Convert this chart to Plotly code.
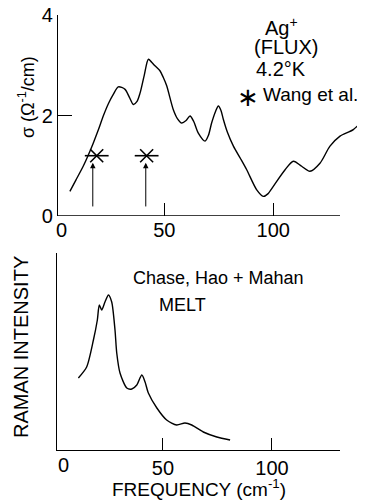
import plotly.graph_objects as go

# ---- data ----
freq_ir = [6.7, 9.5, 12.8, 15.0, 17.4, 19.8, 22.0, 24.5, 26.6, 28.9, 32.0, 34.0, 35.8, 37.5, 38.9,
           40.8, 42.7, 44.2, 45.7, 48.0, 49.5, 51.1, 54.1, 56.0, 58.0, 60.0, 61.8, 63.5, 65.6, 68.7,
           70.2, 71.7, 73.5, 74.8, 76.0, 77.1, 79.0, 81.7, 85.0, 87.8, 92.4, 95.4, 97.5, 100.0,
           105.4, 109.2, 113.0, 116.8, 121.4, 126.0, 130.6, 136.7, 142.1]
sigma = [0.49, 0.72, 0.99, 1.20, 1.45, 1.72, 1.99, 2.25, 2.42, 2.57, 2.52, 2.36, 2.22, 2.28, 2.45,
         2.80, 3.12, 3.06, 2.99, 2.89, 2.76, 2.59, 2.12, 1.94, 1.85, 1.90, 1.99, 1.88, 1.65, 1.49,
         1.60, 1.85, 2.08, 2.19, 2.10, 1.92, 1.66, 1.39, 1.14, 0.92, 0.52, 0.39, 0.44, 0.59,
         0.92, 1.09, 0.99, 0.89, 1.05, 1.39, 1.59, 1.72, 1.95]

wang_freq = [19.0, 41.9]
wang_sigma = [1.2, 1.2]
arrow_freq = [17.2, 41.5]
arrow_base = [0.16, 0.16]
arrow_tip = [1.06, 1.06]

freq_raman = [11.2, 15.0, 18.1, 19.9, 20.8, 21.9, 23.4, 25.0, 26.5, 28.0, 28.8, 30.3, 33.4, 35.7,
              38.0, 40.3, 41.8, 43.3, 47.2, 51.7, 56.3, 60.1, 63.2, 68.5, 74.7, 80.8]
raman = [7.2, 8.3, 11.0, 13.0, 14.5, 14.0, 14.8, 15.5, 14.8, 12.0, 9.7, 7.7, 6.2, 6.1,
         6.5, 7.5, 6.8, 5.7, 4.2, 3.0, 2.5, 2.7, 2.5, 1.8, 1.3, 1.0]

x_ticks = [50, 100]
sigma_ticks = [0, 2, 4]

FONT = "Liberation Sans"
OFF = 8                      # page body margin
W, H = 365 - OFF, 500 - OFF


def px(p):
    return (p - OFF) / W


def py(p):
    return 1 - (p - OFF) / H


fig = go.Figure()

fig.add_trace(go.Scatter(x=freq_ir, y=sigma, mode="lines", xaxis="x", yaxis="y",
                         line=dict(color="black", width=1.4, shape="spline", smoothing=0.8),
                         showlegend=False, hoverinfo="skip"))
fig.add_trace(go.Scatter(x=wang_freq, y=wang_sigma, mode="markers", xaxis="x", yaxis="y",
                         marker=dict(symbol="x-thin-open", size=13, color="black",
                                     line=dict(color="black", width=1.6)),
                         showlegend=False, hoverinfo="skip"))
fig.add_trace(go.Scatter(x=wang_freq, y=wang_sigma, mode="markers", xaxis="x", yaxis="y",
                         marker=dict(symbol="line-ew-open", size=17, color="black",
                                     line=dict(color="black", width=1.6)),
                         showlegend=False, hoverinfo="skip"))
fig.add_trace(go.Scatter(x=freq_raman, y=raman, mode="lines", xaxis="x2", yaxis="y2",
                         line=dict(color="black", width=1.4, shape="spline", smoothing=0.7),
                         showlegend=False, hoverinfo="skip"))

tickfont = dict(family=FONT, size=20, color="black")

fig.update_layout(
    width=W, height=H, margin=dict(l=0, r=0, t=0, b=0, autoexpand=False),
    paper_bgcolor="white", plot_bgcolor="white",
    font=dict(family=FONT, color="black"),
    xaxis=dict(domain=[px(58), 1.0], range=[1.24, 142.06], anchor="y", automargin=False,
               showline=False, showgrid=False, zeroline=False, ticklabeloverflow="allow",
               tickvals=x_ticks, ticks="inside", ticklen=13, tickwidth=1.3, tickcolor="black",
               tickfont=tickfont),
    yaxis=dict(domain=[py(216), py(15)], range=[0, 4], anchor="x", automargin=False,
               showline=True, linecolor="black", linewidth=1.3, showgrid=False, zeroline=False,
               ticklabeloverflow="allow",
               tickvals=sigma_ticks, ticks="inside", ticklen=14, tickwidth=1.3, tickcolor="black",
               tickfont=tickfont),
    xaxis2=dict(domain=[px(57), px(340)], range=[1.4, 131.2], anchor="y2", automargin=False,
                showline=True, linecolor="black", linewidth=1.3, showgrid=False, zeroline=False,
                ticklabeloverflow="allow",
                tickvals=x_ticks, ticks="inside", ticklen=12, tickwidth=1.3, tickcolor="black",
                tickfont=tickfont),
    yaxis2=dict(domain=[py(450), py(253)], range=[0, 19.7], anchor="x2", automargin=False,
                showline=True, linecolor="black", linewidth=1.3, showgrid=False, zeroline=False,
                showticklabels=False, ticks=""),
)

# top x-axis line (ends before the curve does)
fig.add_shape(type="line", xref="x", yref="y", x0=1.24, x1=130.6, y0=0, y1=0,
              line=dict(color="black", width=1.3))

# arrows
for xf, yb, yt in zip(arrow_freq, arrow_base, arrow_tip):
    fig.add_annotation(xref="x", yref="y", axref="x", ayref="y", x=xf, y=yt, ax=xf, ay=yb,
                       text="", showarrow=True, arrowhead=2, arrowsize=1.1, arrowwidth=1,
                       arrowcolor="black")


def txt(s, x, y, size, **kw):
    fig.add_annotation(text=s, x=px(x), y=py(y), xref="paper", yref="paper", showarrow=False,
                       xanchor="center", yanchor="middle",
                       font=dict(family=FONT, size=size, color="black"), **kw)


txt("0", 61, 230, 20)
txt("0", 63, 465, 20)
txt("Ag<sup>+</sup>", 281, 26, 20)
txt("(FLUX)", 286, 47, 20)
txt("4.2°K", 281, 69, 20)
txt("∗", 248, 97, 26)
txt("Wang et al.", 310, 95, 19)
txt("σ (Ω<sup>-1</sup>/cm)", 26, 97, 18, textangle=-90)
txt("Chase, Hao + Mahan", 218, 278, 18)
txt("MELT", 182, 305, 18)
txt("RAMAN INTENSITY", 21, 347, 20, textangle=-90)
txt("FREQUENCY (cm<sup>-1</sup>)", 199, 488, 19)

fig.write_html("out.html")
